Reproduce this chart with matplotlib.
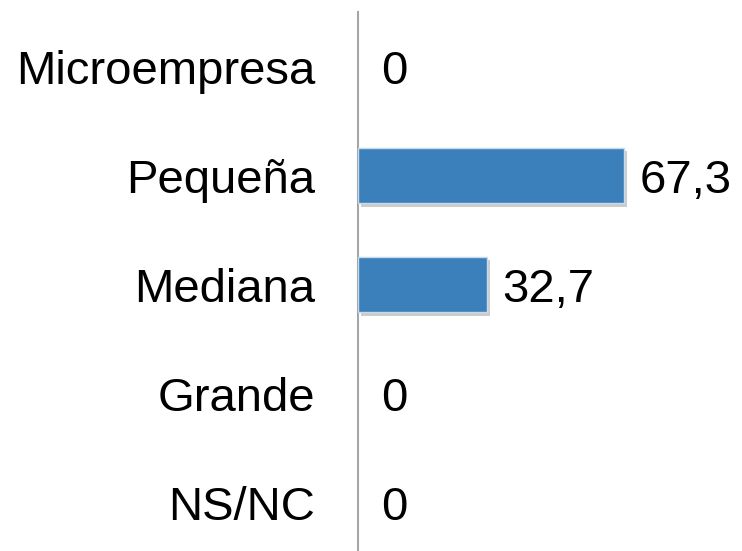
import matplotlib
matplotlib.use("Agg")
import matplotlib.pyplot as plt
import matplotlib.patheffects as pe

# Data
categories = ['Microempresa', 'Pequeña', 'Mediana', 'Grande', 'NS/NC']
values = [0, 67.3, 32.7, 0, 0]
labels = ['0', '67,3', '32,7', '0', '0']

plt.rcParams['font.family'] = ['Liberation Sans', 'DejaVu Sans']

fig = plt.figure(figsize=(7.42, 5.51), dpi=100)
ax = fig.add_axes([358 / 742, 1 - 557 / 551, 384 / 742, 545 / 551])

pos = list(range(len(categories)))
bars = ax.barh(pos, values, height=0.51, color='#3b80bb',
               edgecolor='#c5dbee', linewidth=1.0, zorder=3)
for b, v in zip(bars, values):
    if v == 0:
        b.set_visible(False)
        continue
    b.set_path_effects([pe.SimplePatchShadow(offset=(2, -2.5), shadow_rgbFace='#9a9a9a', alpha=0.5),
                        pe.Normal()])

ax.set_xlim(0, 97.2)
ax.set_ylim(4.5, -0.5)

ax.set_yticks(pos)
ax.set_yticklabels(categories, fontsize=34)
ax.tick_params(axis='y', length=0, pad=31)
ax.set_xticks([])

for s in ['top', 'right', 'bottom']:
    ax.spines[s].set_visible(False)
ax.spines['left'].set_color('#a6a6a6')
ax.spines['left'].set_linewidth(1.5)

# Data labels
for p, v, t in zip(pos, values, labels):
    off = 11 if v > 0 else 17
    ax.annotate(t, (v, p), xytext=(off, 0), textcoords='offset points',
                ha='left', va='center_baseline', fontsize=34)

fig.savefig('out.png', dpi=100)
